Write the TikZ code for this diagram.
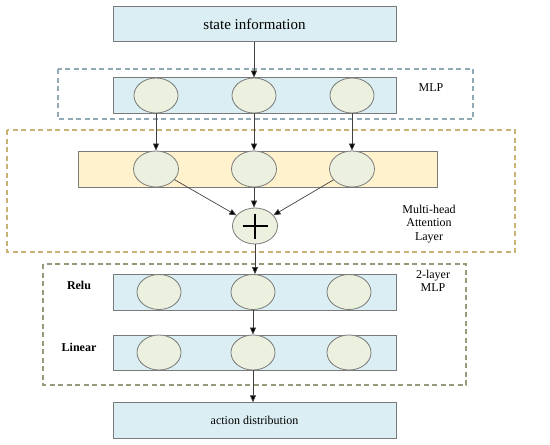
\documentclass[tikz,border=0pt]{standalone}
\usepackage{fontspec}
\setmainfont{Liberation Serif}
\usetikzlibrary{shapes.geometric,arrows.meta}
\definecolor{barblue}{HTML}{DAEEF3}
\definecolor{baryellow}{HTML}{FFF2CC}
\definecolor{cellgreen}{HTML}{EBF1DE}
\definecolor{edgegray}{HTML}{7A7A7A}
\definecolor{dashblue}{HTML}{92AAB5}
\definecolor{dashtan}{HTML}{C8B276}
\definecolor{dasholive}{HTML}{959A79}
\definecolor{linkgray}{HTML}{404040}
\begin{document}
\begin{tikzpicture}[x=1pt,y=-1pt,
  barbox/.style={draw=edgegray,line width=0.9pt,inner sep=0pt,minimum width=283pt,minimum height=35.5pt},
  cell/.style={ellipse,draw=edgegray,line width=0.8pt,fill=cellgreen,inner sep=0pt,minimum width=44pt,minimum height=35pt},
  groupbox/.style={line width=1.1pt,dash pattern=on 5pt off 3.5pt},
  link/.style={draw=linkgray,line width=0.7pt,-{Triangle[length=7pt,width=6pt,fill=black]}},
  lbl/.style={font=\fontsize{12}{13.5}\selectfont,align=center,inner sep=0pt},
  boldlbl/.style={font=\fontsize{12}{14}\selectfont\bfseries,inner sep=0pt}
]
\useasboundingbox (0,0) rectangle (550,445);

% group boxes
\draw[groupbox,draw=dashblue] (58,69) rectangle (473,119);
\draw[groupbox,draw=dashtan] (7,130) rectangle (515,252);
\draw[groupbox,draw=dasholive] (43,264) rectangle (466,385);

% input / output
\node[barbox,fill=barblue,font=\fontsize{15}{17}\selectfont] (state) at (254.5,24) {state information};
\node[barbox,fill=barblue,font=\fontsize{12}{14}\selectfont] (action) at (254.5,420.5) {action distribution};

% MLP
\node[barbox,fill=barblue] (mlpbar) at (254.5,95.5) {};
\node[cell] (m1) at (156,95.5) {};
\node[cell] (m2) at (254,95.5) {};
\node[cell] (m3) at (352,95.5) {};
\node[lbl] (mlplbl) at (431,88) {MLP};

% attention
\node[draw=edgegray,line width=0.9pt,fill=baryellow,inner sep=0pt,minimum width=359pt,minimum height=36pt] (attbar) at (257.5,169) {};
\node[cell,minimum height=36pt,minimum width=45pt] (a1) at (156,169) {};
\node[cell,minimum height=36pt,minimum width=45pt] (a2) at (254,169) {};
\node[cell,minimum height=36pt,minimum width=45pt] (a3) at (352,169) {};
\node[cell,minimum width=45pt,minimum height=36pt,
  path picture={\draw[black,line width=1.8pt]
    ([xshift=-12.5pt]path picture bounding box.center) -- ([xshift=12.5pt]path picture bounding box.center)
    ([yshift=-12.5pt]path picture bounding box.center) -- ([yshift=12.5pt]path picture bounding box.center);}] (plus) at (255,226) {};
\node[lbl] (attlbl) at (429,224) {Multi-head\\Attention\\Layer};

% 2-layer MLP
\node[barbox,fill=barblue,minimum height=36pt] (relubar) at (254.5,292) {};
\node[cell] (r1) at (159,292) {};
\node[cell] (r2) at (253,292) {};
\node[cell] (r3) at (349,292) {};
\node[barbox,fill=barblue,minimum height=35pt] (linbar) at (254.5,352.5) {};
\node[cell] (l1) at (159,352.5) {};
\node[cell] (l2) at (253,352.5) {};
\node[cell] (l3) at (349,352.5) {};
\node[boldlbl] (relulbl) at (79,285) {Relu};
\node[boldlbl] (linlbl) at (79,347) {Linear};
\node[lbl] (mlp2lbl) at (433,281) {2-layer\\MLP};

% connectors
\draw[link] (state.south -| m2) -- (m2.north);
\draw[link] (m1.south) -- (a1.north);
\draw[link] (m2.south) -- (a2.north);
\draw[link] (m3.south) -- (a3.north);
\draw[link] (a1) -- (plus);
\draw[link] (a2.south) -- (plus.north -| a2);
\draw[link] (a3) -- (plus);
\draw[link] (plus.south) -- (r2.north -| plus);
\draw[link] (r2.south) -- (l2.north);
\draw[link] (l2.south) -- (action.north -| l2);
\end{tikzpicture}
\end{document}
